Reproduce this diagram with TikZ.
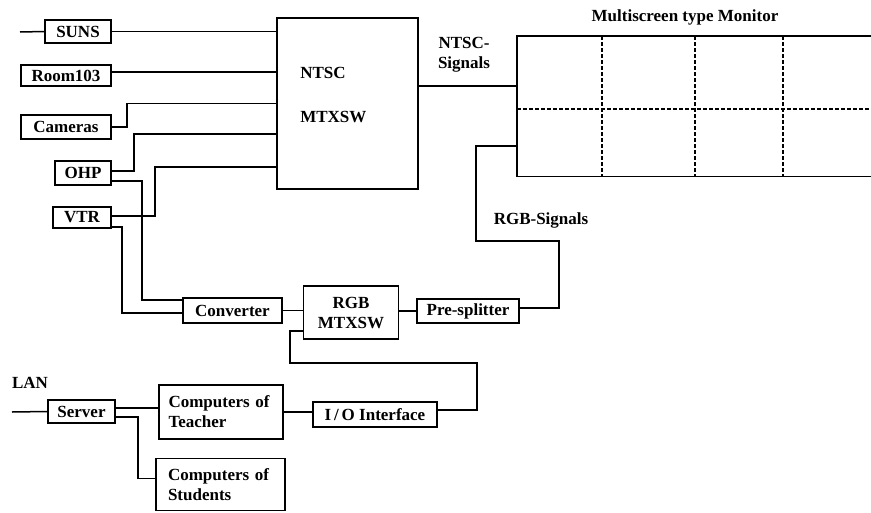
\documentclass[tikz,border=0pt]{standalone}
\usepackage{fontspec}
\setmainfont{Liberation Serif}
\begin{document}
\begin{tikzpicture}[x=1pt, y=-1pt, line width=1.5pt,
    box/.style={draw, inner sep=0pt, font=\fontsize{17}{20}\selectfont\bfseries},
    txt/.style={font=\fontsize{17}{20}\selectfont\bfseries, align=center}]
      \useasboundingbox (0,0) rectangle (871,512);
      \node[box, minimum width=66pt, minimum height=23pt] (Suns) at (78,31.5) {SUNS};
      \node[box, minimum width=90pt, minimum height=21pt] (Room) at (66,75.5) {Room103};
      \node[box, minimum width=90pt, minimum height=24pt] (Cameras) at (66,127) {Cameras};
      \node[box, minimum width=56pt, minimum height=24pt] (Ohp) at (83,173) {OHP};
      \node[box, minimum width=58pt, minimum height=21pt] (Vtr) at (82,217.5) {VTR};
      \node[box, minimum width=141pt, minimum height=171pt] (Ntsc) at (347.5,103.5) {};
      \node[txt, align=left, anchor=west] (NtscText) at ([xshift=20pt, yshift=8.5pt]Ntsc.west) {NTSC\\[24pt]MTXSW};
      \node[box, minimum width=99pt, minimum height=25pt] (Conv) at (232.5,310.5) {Converter};
      \node[box, minimum width=95pt, minimum height=53pt, align=center] (Rgb) at (351,312.5) {RGB\\MTXSW};
      \node[box, minimum width=102pt, minimum height=24pt] (Pre) at (468,311) {Pre-splitter};
      \node[box, minimum width=67pt, minimum height=23pt] (Server) at (81.5,411.5) {Server};
      \node[box, minimum width=124pt, minimum height=54pt, align=left, text width=105pt] (Teacher) at (221,412) {Computers of\\Teacher};
      \node[box, minimum width=124pt, minimum height=25pt] (Io) at (375,414.5) {I\,/\,O Interface};
      \node[box, minimum width=129pt, minimum height=52pt, align=left, text width=105pt] (Students) at (220.5,484.5) {Computers of\\Students};
      \node[inner sep=0pt, minimum width=354pt, minimum height=139pt, anchor=north west] (Monitor) at (517,36) {};
      \draw (Monitor.north east) -- (Monitor.north west) -- (Monitor.south west) -- (Monitor.south east);
      \draw[dash pattern=on 4pt off 2pt] ([yshift=-2.5pt]Monitor.west) -- ([yshift=-2.5pt]Monitor.east);
      \foreach \dx in {85,178,266}
        \draw[dash pattern=on 4pt off 2pt] ([xshift=\dx pt]Monitor.north west) -- ([xshift=\dx pt]Monitor.south west);
      \node[txt] (MonTitle) at (685,17) {Multiscreen type Monitor};
      \node[txt] (NtscSig) at (464,55) {NTSC-\\Signals};
      \node[txt] (RgbSig) at (541,220) {RGB-Signals};
      \node[txt] (Lan) at (30,383) {LAN};
      \coordinate (SunsIn) at (20,32);
      \coordinate (LanIn) at (12,412);
      \coordinate (RgbBend) at (476,241);
      \coordinate (IoBend) at (477,363);
      \draw (SunsIn) -- (Suns.west);
      \draw (Suns.east) -- (Suns.east -| Ntsc.west);
      \draw ([yshift=3.5pt]Room.east) -- ([yshift=3.5pt]Room.east -| Ntsc.west);
      \draw (Cameras.east) -- ++(15,0) |- (Ntsc.west);
      \draw ([yshift=2pt]Ohp.east) -- ++(22,0) |- ([yshift=-30.5pt]Ntsc.west);
      \draw ([yshift=1.5pt]Vtr.east) -- ++(43,0) |- ([yshift=-63.5pt]Ntsc.west);
      \draw ([yshift=-8pt]Ohp.east) -- ++(30,0) |- ([yshift=10.5pt]Conv.west);
      \draw ([yshift=-9.5pt]Vtr.east) -- ++(10,0) |- ([yshift=-2.5pt]Conv.west);
      \draw ([yshift=17.5pt]Ntsc.east) -- ([yshift=17.5pt]Ntsc.east -| Monitor.west);
      \draw (Conv.east) -- (Conv.east -| Rgb.west);
      \draw (Rgb.east |- Pre.west) -- (Pre.west);
      \draw ([yshift=3pt]Pre.east) -- ++(39,0) |- (RgbBend) |- ([yshift=-39.5pt]Monitor.west);
      \draw ([yshift=-18.5pt]Rgb.west) -- ++(-13,0) |- (IoBend) |- ([yshift=4.5pt]Io.east);
      \draw (LanIn) -- (Server.west);
      \draw ([yshift=3.5pt]Server.east) -- ([yshift=3.5pt]Server.east -| Teacher.west);
      \draw ([yshift=-5.5pt]Server.east) -- ++(22,0) |- ([yshift=6pt]Students.west);
      \draw (Teacher.east) -- (Teacher.east -| Io.west);
\end{tikzpicture}
\end{document}
